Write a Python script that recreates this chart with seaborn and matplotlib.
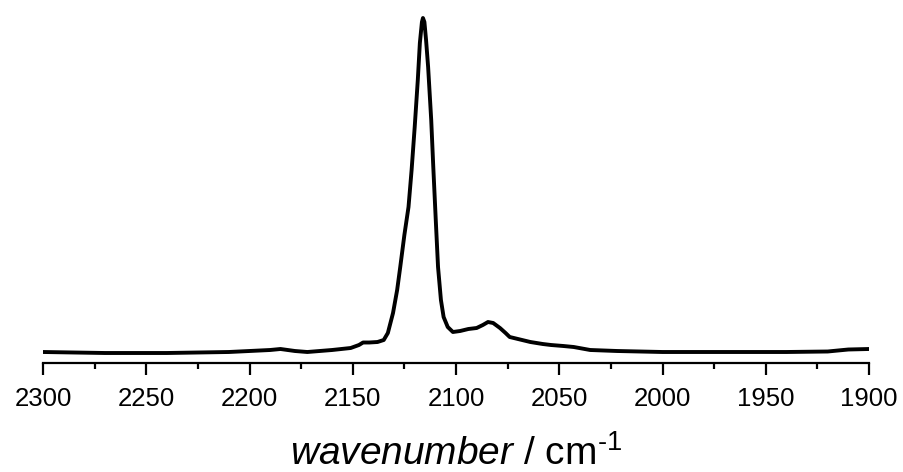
import matplotlib
matplotlib.use("Agg")
import matplotlib.pyplot as plt
from matplotlib.ticker import MultipleLocator
import seaborn as sns
import pandas as pd

wavenumber = [2300, 2270, 2240, 2210, 2190, 2185, 2178, 2172, 2160, 2151, 2147, 2145, 2142,
              2138, 2135, 2133, 2130.5, 2128.5, 2127, 2125, 2123, 2121.5, 2120, 2118.5,
              2117.5, 2116.5, 2116, 2115.3, 2114.5, 2113.5, 2112, 2111, 2109.8, 2108.7,
              2107.3, 2106, 2104, 2101.5, 2098, 2094, 2090, 2087, 2084.5, 2082, 2078.7,
              2076, 2074, 2070, 2064, 2058, 2054, 2048, 2043, 2039, 2035, 2022, 2000,
              1970, 1940, 1920, 1910, 1900]
intensity = [1, 0, 0, 1, 3, 4, 2, 1, 3, 5, 8, 10.5, 10.5,
             11, 13, 20, 40, 63, 86, 118, 146, 183, 226, 273,
             310, 331, 335, 331, 313, 286, 233, 186, 133, 86,
             53, 36, 26, 21, 22, 24, 25, 28, 31, 30, 25,
             20, 16, 14, 11, 9, 8, 7, 6, 4.5, 3, 2, 1,
             1, 1, 1.5, 3.5, 4]
xticks = [2300, 2250, 2200, 2150, 2100, 2050, 2000, 1950, 1900]

df = pd.DataFrame({"wavenumber": wavenumber, "intensity": intensity})

sns.set_theme(style="white")
plt.rcParams["font.family"] = ["Liberation Sans", "DejaVu Sans"]
plt.rcParams["mathtext.fontset"] = "custom"
plt.rcParams["mathtext.rm"] = "Liberation Sans"
plt.rcParams["mathtext.it"] = "Liberation Sans:italic"

fig = plt.figure(figsize=(9.04, 4.72), dpi=100)
ax = fig.add_axes([43 / 904, 1 - 363 / 472, (869 - 43) / 904, (363 - 10) / 472])

sns.lineplot(data=df, x="wavenumber", y="intensity", ax=ax, color="black",
             linewidth=2.8, estimator=None)

ax.set_xlim(2300, 1900)
ax.set_ylim(-10, 343)
ax.set_xticks(xticks)
ax.set_xticklabels([str(t) for t in xticks])
ax.xaxis.set_minor_locator(MultipleLocator(25))
ax.set_yticks([])
for s in ["top", "right", "left"]:
    ax.spines[s].set_visible(False)
ax.spines["bottom"].set_linewidth(1.6)
ax.spines["bottom"].set_color("black")
ax.tick_params(axis="x", which="major", direction="out", length=8.6, width=1.6,
               colors="black", labelsize=18.5, pad=9, bottom=True)
ax.tick_params(axis="x", which="minor", direction="out", length=4, width=1.6,
               colors="black", bottom=True)
ax.set_ylabel("")
ax.set_xlabel(r"$\mathit{wavenumber}$ / cm$^{\text{-1}}$", fontsize=28, labelpad=17,
              color="black")

fig.savefig("out.png", dpi=100, facecolor="white")
